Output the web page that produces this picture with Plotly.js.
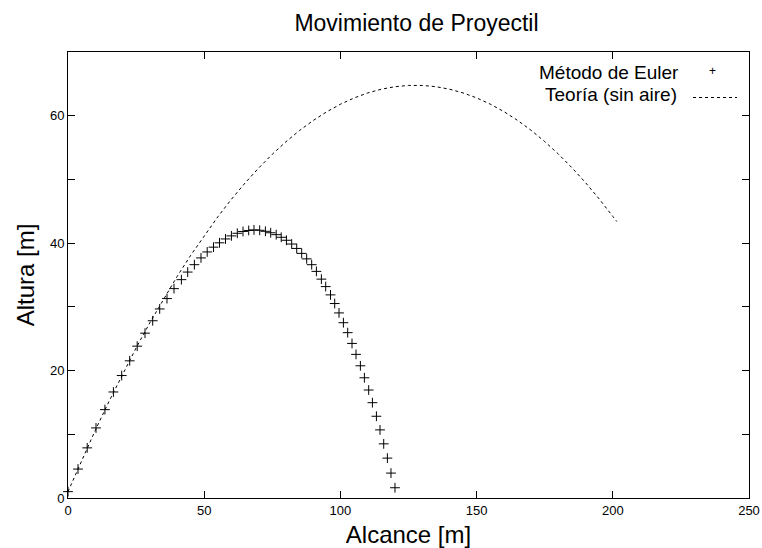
<!DOCTYPE html>
<html>
<head>
<meta charset="utf-8">
<script src="https://cdn.plot.ly/plotly-3.0.1.min.js"></script>
<style>html,body{margin:0;padding:0;background:#fff}#chart{width:762px;height:548px}</style>
</head>
<body>
<div id="chart"></div>
<script>
// Euler method points
const eulerX = [0, 3.67, 7.05, 10.28, 13.55, 16.67, 19.71, 22.65, 25.40, 28.27, 31.09, 33.66, 36.34, 38.91, 41.63, 43.94, 46.40, 48.82, 51.10, 53.41, 55.62, 57.82, 59.99, 62.15, 64.24, 66.34, 68.28, 70.37, 72.47, 74.41, 76.43, 78.27, 80.18, 82.12, 83.96, 85.79, 87.63, 89.46, 91.19, 93.02, 94.60, 96.37, 97.91, 99.49, 101.10, 102.68, 104.26, 105.73, 107.34, 108.81, 110.39, 111.75, 113.22, 114.54, 115.90, 117.25, 118.57, 120.04];
const eulerY = [1.0, 4.54, 7.87, 11.0, 13.87, 16.64, 19.22, 21.53, 23.83, 25.87, 27.82, 29.67, 31.30, 32.86, 34.27, 35.46, 36.62, 37.68, 38.62, 39.37, 40.05, 40.66, 41.14, 41.55, 41.83, 41.99, 42.08, 42.02, 41.86, 41.63, 41.33, 40.92, 40.45, 39.86, 39.17, 38.39, 37.53, 36.62, 35.57, 34.35, 33.18, 31.88, 30.52, 29.05, 27.51, 25.95, 24.26, 22.54, 20.75, 18.87, 16.95, 14.96, 12.83, 10.69, 8.50, 6.26, 3.91, 1.61];
// Theory (no air) curve
const theoryX = [0, 5, 10, 15, 20, 25, 30, 35, 40, 45, 50, 55, 60, 65, 70, 75, 80, 85, 90, 95, 100, 105, 110, 115, 120, 125, 130, 135, 140, 145, 150, 155, 160, 165, 170, 175, 180, 185, 190, 195, 200, 201.5];
const theoryY = [1.0, 5.90, 10.61, 15.12, 19.43, 23.55, 27.47, 31.20, 34.73, 38.06, 41.20, 44.14, 46.89, 49.44, 51.79, 53.95, 55.91, 57.68, 59.25, 60.62, 61.80, 62.78, 63.57, 64.16, 64.55, 64.75, 64.75, 64.56, 64.17, 63.58, 62.80, 61.82, 60.65, 59.28, 57.71, 55.95, 53.99, 51.84, 49.49, 46.94, 44.20, 43.40];
// Ticks
const xTicks = [0, 50, 100, 150, 200, 250];
const xTickText = ['0', '50', '100', '150', '200', '250'];
const yTicks = [0, 10, 20, 30, 40, 50, 60, 70];
const yTickText = ['0', '', '20', '', '40', '', '60', ''];
const seriesNames = ['Método de Euler', 'Teoría (sin aire)'];

const FONT = 'Liberation Sans, Arial, sans-serif';
const L = 68, R = 749, T = 52, B = 498;
const px = v => (v - L) / (R - L);
const py = v => (B - v) / (B - T);

const traces = [
  {
    x: eulerX, y: eulerY, mode: 'markers', type: 'scatter', name: seriesNames[0],
    marker: {symbol: 'cross-thin', size: 7, color: '#000', line: {color: '#000', width: 1}},
    showlegend: false, cliponaxis: false
  },
  {
    x: theoryX, y: theoryY, mode: 'lines', type: 'scatter', name: seriesNames[1],
    line: {color: '#000', width: 1, dash: '3px,3px'},
    showlegend: false
  }
];

const axisCommon = {
  showline: true, mirror: 'ticks', linecolor: '#000', linewidth: 1,
  ticks: 'inside', ticklen: 7, tickwidth: 1, tickcolor: '#000',
  showgrid: false, zeroline: false,
  tickfont: {family: FONT, size: 13, color: '#000'},
  tickmode: 'array'
};

const layout = {
  width: 762, height: 548,
  margin: {l: L, r: 762 - R, t: T, b: 548 - B},
  paper_bgcolor: '#fff', plot_bgcolor: '#fff',
  font: {family: FONT, color: '#000'},
  title: {text: 'Movimiento de Proyectil', font: {family: FONT, size: 23, color: '#000'},
          x: 416.5/762, xref: 'container', xanchor: 'center', y: 1 - 23/548, yref: 'container', yanchor: 'middle'},
  xaxis: Object.assign({}, axisCommon, {
    range: [0, 250], tickvals: xTicks, ticktext: xTickText,
    title: {text: 'Alcance [m]', font: {family: FONT, size: 24, color: '#000'}, standoff: 11}
  }),
  yaxis: Object.assign({}, axisCommon, {
    range: [0, 70], tickvals: yTicks, ticktext: yTickText,
    title: {text: 'Altura [m]', font: {family: FONT, size: 24, color: '#000'}, standoff: 8}
  }),
  annotations: [
    {text: seriesNames[0], xref: 'paper', yref: 'paper', x: px(681), y: py(72),
     xanchor: 'right', yanchor: 'middle', showarrow: false, font: {family: FONT, size: 19, color: '#000'}},
    {text: seriesNames[1], xref: 'paper', yref: 'paper', x: px(679), y: py(94),
     xanchor: 'right', yanchor: 'middle', showarrow: false, font: {family: FONT, size: 19, color: '#000'}},
    {text: '+', xref: 'paper', yref: 'paper', x: px(712), y: py(71),
     xanchor: 'center', yanchor: 'middle', showarrow: false, font: {family: FONT, size: 12, color: '#000'}}
  ],
  shapes: [
    {type: 'line', xref: 'paper', yref: 'paper', x0: px(693), x1: px(737),
     y0: py(97.5), y1: py(97.5), line: {color: '#000', width: 1, dash: '3px,3px'}}
  ]
};

Plotly.newPlot('chart', traces, layout, {displayModeBar: false, staticPlot: true});
</script>
</body>
</html>
